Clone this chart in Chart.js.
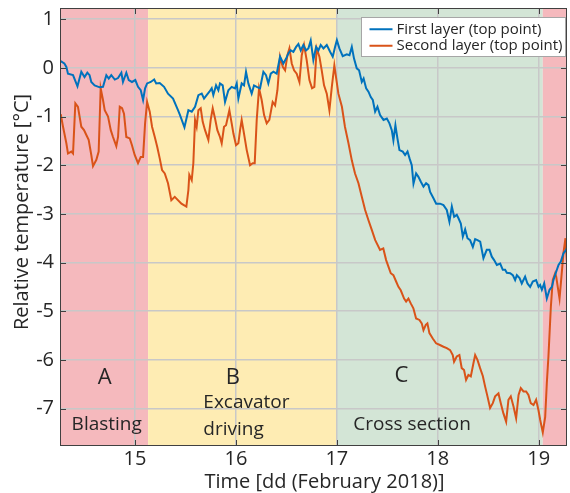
<!DOCTYPE html>
<html><head><meta charset="utf-8">
<script src="https://cdn.jsdelivr.net/npm/chart.js@4/dist/chart.umd.min.js"></script>
<style>html,body{margin:0;padding:0;background:#fff;overflow:hidden}#wrap{width:570px;height:493px}</style>
</head><body><div id="wrap"><canvas id="c" width="570" height="493"></canvas></div>
<script>
// ---------------- data ----------------
const seriesLabels = ['First layer (top point)', 'Second layer (top point)'];
const xTicks = [15, 16, 17, 18, 19];
const yTicks = [-7, -6, -5, -4, -3, -2, -1, 0, 1];
const xRange = [14.257, 19.28];
const yRange = [-7.77, 1.23];
const xTitle = 'Time [dd (February 2018)]';
const yTitle = 'Relative temperature [°C]';

// phases: start / end (days)
const phaseStart = [14.257, 15.13, 17.0, 19.04];
const phaseEnd   = [15.13, 17.0, 19.04, 19.28];
const phaseLetters = ['A', 'B', 'C'];
const phaseNames = [['Blasting'], ['Excavator', 'driving'], ['Cross section']];

const firstLayerTime = [
14.264,14.30,14.32,14.336,14.386,14.43,14.468,14.50,14.528,14.55,
14.567,14.60,14.65,14.683,14.716,14.74,14.765,14.80,14.832,14.865,
14.881,14.914,14.938,14.97,15.003,15.03,15.057,15.08,15.10,15.12,
15.156,15.19,15.21,15.245,15.288,15.327,15.377,15.426,15.446,15.49,
15.529,15.562,15.595,15.628,15.661,15.684,15.71,15.737,15.76,15.776,
15.803,15.826,15.842,15.869,15.892,15.925,15.958,15.991,16.008,16.024,
16.057,16.08,16.10,16.123,16.156,16.179,16.206,16.239,16.272,16.298,
16.321,16.345,16.371,16.404,16.437,16.47,16.497,16.52,16.543,16.569,
16.596,16.619,16.642,16.668,16.695,16.718,16.741,16.767,16.794,16.817,
16.84,16.867,16.90,16.933,16.959,16.982,17.0,17.025,17.058,17.098,
17.125,17.148,17.17,17.197,17.22,17.247,17.265,17.29,17.313,17.336,
17.356,17.379,17.402,17.428,17.462,17.495,17.521,17.544,17.56,17.58,
17.6,17.62,17.653,17.676,17.7,17.72,17.742,17.759,17.785,17.808,
17.832,17.858,17.884,17.908,17.924,17.957,17.984,18.023,18.056,18.089,
18.115,18.139,18.162,18.188,18.205,18.228,18.248,18.271,18.294,18.32,
18.347,18.37,18.393,18.42,18.452,18.485,18.512,18.535,18.558,18.585,
18.618,18.644,18.667,18.684,18.717,18.743,18.766,18.783,18.81,18.832,
18.865,18.888,18.915,18.941,18.974,18.998,19.014,19.031,19.054,19.08,
19.107,19.13,19.146,19.173,19.196,19.219,19.245,19.272,19.295];
const firstLayerTemp = [
0.14,0.09,0.02,-0.12,-0.15,-0.38,-0.08,-0.19,-0.10,-0.15,
-0.29,-0.36,-0.40,-0.39,-0.15,-0.22,-0.15,-0.24,-0.21,-0.10,
-0.29,-0.10,-0.25,-0.29,-0.25,-0.39,-0.46,-0.66,-0.42,-0.32,
-0.29,-0.24,-0.32,-0.31,-0.39,-0.53,-0.63,-0.87,-0.97,-1.22,
-0.87,-0.90,-0.80,-0.56,-0.53,-0.63,-0.56,-0.49,-0.42,-0.56,
-0.36,-0.46,-0.32,-0.36,-0.70,-0.46,-0.39,-0.42,-0.32,-0.63,
-0.32,-0.36,-0.08,-0.32,-0.53,-0.36,-0.39,-0.42,-0.08,-0.15,
-0.32,-0.12,-0.08,-0.12,0.23,0.09,0.19,0.30,0.36,0.33,
0.43,0.49,0.36,0.47,0.36,0.40,0.56,0.16,0.43,0.36,
0.47,0.40,0.47,0.33,0.23,0.43,0.57,0.40,0.24,0.28,
0.26,0.43,0.19,-0.01,-0.05,-0.29,-0.22,-0.42,-0.49,-0.60,
-0.66,-0.90,-0.80,-0.97,-1.07,-1.04,-1.14,-1.28,-1.49,-1.18,
-1.45,-1.69,-1.72,-1.79,-1.72,-1.86,-2.00,-2.38,-2.17,-2.24,
-2.34,-2.44,-2.37,-2.41,-2.55,-2.68,-2.79,-2.79,-2.82,-2.92,
-3.16,-2.85,-3.06,-3.02,-3.09,-3.20,-3.47,-3.32,-3.50,-3.54,
-3.68,-3.52,-3.54,-3.57,-3.91,-3.74,-3.74,-3.88,-3.95,-4.05,
-4.02,-4.15,-4.15,-4.21,-4.22,-4.26,-4.36,-4.26,-4.32,-4.43,
-4.29,-4.43,-4.50,-4.39,-4.36,-4.50,-4.46,-4.56,-4.43,-4.74,
-4.56,-4.50,-4.36,-4.19,-4.05,-3.98,-3.81,-3.74,-3.61];

const secondLayerTime = [
14.264,14.287,14.32,14.336,14.369,14.386,14.409,14.435,14.468,14.495,
14.518,14.541,14.567,14.584,14.617,14.64,14.66,14.683,14.70,14.733,
14.76,14.782,14.815,14.832,14.849,14.872,14.891,14.914,14.948,14.97,
14.997,15.03,15.057,15.08,15.10,15.12,15.146,15.169,15.196,15.22,
15.245,15.268,15.295,15.327,15.36,15.394,15.46,15.509,15.529,15.538,
15.562,15.578,15.595,15.611,15.628,15.651,15.671,15.694,15.727,15.75,
15.77,15.793,15.816,15.842,15.859,15.882,15.902,15.935,15.958,15.975,
16.001,16.024,16.041,16.057,16.08,16.107,16.14,16.166,16.186,16.206,
16.229,16.255,16.279,16.305,16.331,16.364,16.388,16.411,16.437,16.464,
16.487,16.51,16.53,16.553,16.576,16.602,16.629,16.652,16.675,16.701,
16.728,16.754,16.777,16.80,16.827,16.85,16.873,16.90,16.926,16.95,
16.975,17.015,17.05,17.08,17.115,17.148,17.18,17.214,17.247,17.28,
17.313,17.346,17.38,17.428,17.46,17.488,17.51,17.534,17.56,17.587,
17.61,17.633,17.666,17.686,17.709,17.732,17.758,17.785,17.818,17.841,
17.858,17.881,17.897,17.917,17.95,17.983,18.016,18.056,18.089,18.122,
18.148,18.161,18.188,18.214,18.237,18.26,18.28,18.303,18.327,18.353,
18.37,18.393,18.419,18.446,18.469,18.492,18.518,18.545,18.568,18.601,
18.624,18.65,18.677,18.7,18.723,18.75,18.776,18.8,18.822,18.849,
18.875,18.898,18.921,18.948,18.974,18.997,19.014,19.04,19.064,19.08,
19.096,19.12,19.139,19.163,19.173,19.206,19.225,19.245,19.265,19.278,
19.295];
const secondLayerTemp = [
-0.95,-1.21,-1.55,-1.76,-1.72,-1.76,-0.73,-0.80,-1.21,-1.28,
-1.38,-1.48,-1.79,-2.02,-1.89,-1.72,-0.42,-0.66,-0.87,-1.00,
-1.28,-1.42,-1.61,-1.42,-0.80,-0.83,-0.94,-1.42,-1.45,-1.59,
-1.79,-1.96,-1.83,-1.83,-1.14,-0.70,-0.90,-1.21,-1.42,-1.62,
-1.86,-2.10,-2.17,-2.37,-2.72,-2.65,-2.79,-2.85,-2.51,-2.20,
-2.31,-1.96,-1.07,-1.21,-0.87,-0.83,-1.11,-1.28,-1.48,-1.07,
-0.83,-1.04,-1.28,-1.42,-1.55,-1.21,-1.18,-0.87,-1.14,-1.35,
-1.59,-1.55,-1.28,-1.07,-1.35,-1.69,-2.00,-1.96,-1.96,-1.07,
-0.42,-0.66,-0.97,-1.14,-1.07,-0.70,-0.77,-0.46,0.23,0.02,
-0.05,0.26,0.40,0.09,-0.05,-0.12,-0.29,0.26,0.47,0.16,
-0.25,-0.42,-0.39,0.40,0.23,-0.05,-0.36,-0.53,-0.87,-0.39,
0.05,-0.53,-0.80,-1.21,-1.55,-1.90,-2.17,-2.37,-2.65,-2.92,
-3.13,-3.33,-3.54,-3.74,-3.71,-3.95,-4.08,-4.22,-4.26,-4.39,
-4.50,-4.57,-4.74,-4.80,-4.74,-4.84,-4.94,-5.15,-5.18,-5.25,
-5.39,-5.28,-5.25,-5.45,-5.56,-5.66,-5.69,-5.73,-5.76,-5.80,
-5.90,-6.04,-5.93,-5.90,-6.17,-6.21,-6.41,-6.31,-6.34,-6.07,
-5.90,-6.00,-6.17,-6.33,-6.55,-6.75,-6.99,-6.89,-6.75,-6.69,
-6.89,-7.10,-7.27,-6.82,-6.75,-6.96,-7.20,-6.72,-6.58,-6.65,
-6.65,-6.72,-6.89,-6.93,-6.82,-7.03,-7.23,-7.49,-7.17,-6.48,
-5.93,-4.91,-4.36,-4.22,-4.29,-4.74,-4.29,-3.80,-3.50,-3.95,
-4.20];

// ---------------- styles ----------------
const FONT = "'Open Sans', 'DejaVu Sans', sans-serif";
const TXT = '#262626';
const seriesColors = ['#0072BD', '#D95319'];
const phaseFills = ['#f5b9bd', '#feecb3', '#d3e5d6', '#f5b9bd'];
// annotation anchors (data units)
const letterAnchor = [[14.70, -6.49], [15.97, -6.49], [17.64, -6.45]];
const nameAnchor = [
  [[14.72, -7.45, 'center']],
  [[15.677, -6.985, 'left'], [15.677, -7.54, 'left']],
  [[17.745, -7.44, 'center']]
];

const pts = (xs, ys) => xs.map((t, i) => ({x: t, y: ys[i]}));

const decor = {
  id: 'decor',
  beforeDraw(chart) {
    const {ctx, chartArea: a, scales: {x}} = chart;
    ctx.save();
    phaseStart.forEach((s, i) => {
      const x0 = x.getPixelForValue(s), x1 = x.getPixelForValue(phaseEnd[i]);
      ctx.fillStyle = phaseFills[i];
      ctx.fillRect(x0, a.top, x1 - x0, a.bottom - a.top);
    });
    ctx.restore();
  },
  afterDraw(chart) {
    const {ctx, chartArea: a, scales: {x, y}} = chart;
    ctx.save();
    // phase texts
    ctx.fillStyle = TXT;
    ctx.textBaseline = 'alphabetic';
    ctx.font = '22px ' + FONT;
    ctx.textAlign = 'center';
    phaseLetters.forEach((L, i) => {
      ctx.fillText(L, x.getPixelForValue(letterAnchor[i][0]), y.getPixelForValue(letterAnchor[i][1]));
    });
    ctx.font = '19px ' + FONT;
    phaseNames.forEach((lines, i) => {
      lines.forEach((t, j) => {
        const an = nameAnchor[i][j];
        ctx.textAlign = an[2];
        ctx.fillText(t, x.getPixelForValue(an[0]), y.getPixelForValue(an[1]));
      });
    });
    // box + inward ticks
    ctx.strokeStyle = '#404040';
    ctx.lineWidth = 1;
    ctx.strokeRect(Math.round(a.left) + 0.5, Math.round(a.top) + 0.5,
                   Math.round(a.right - a.left) - 1, Math.round(a.bottom - a.top) - 1);
    ctx.beginPath();
    const TL = 6;
    xTicks.forEach(v => {
      const px = Math.round(x.getPixelForValue(v)) + 0.5;
      ctx.moveTo(px, a.bottom); ctx.lineTo(px, a.bottom - TL);
      ctx.moveTo(px, a.top); ctx.lineTo(px, a.top + TL);
    });
    yTicks.forEach(v => {
      const py = Math.round(y.getPixelForValue(v)) + 0.5;
      ctx.moveTo(a.left, py); ctx.lineTo(a.left + TL, py);
      ctx.moveTo(a.right, py); ctx.lineTo(a.right - TL, py);
    });
    ctx.stroke();
    // axis titles
    ctx.fillStyle = TXT;
    ctx.font = '20px ' + FONT;
    ctx.textAlign = 'center';
    ctx.textBaseline = 'alphabetic';
    ctx.fillText(xTitle, (a.left + a.right) / 2 + 11, 488);
    ctx.save();
    ctx.translate(28, (a.top + a.bottom) / 2 - 15);
    ctx.rotate(-Math.PI / 2);
    ctx.fillText(yTitle, 0, 0);
    ctx.restore();
    // legend
    ctx.font = '15px ' + FONT;
    const ds = chart.data.datasets;
    const tw = Math.max(...ds.map(d => ctx.measureText(d.label).width));
    const padL = 8, lineLen = 23, gap = 4, padR = 3, rowH = 16.5, padT = 2.5;
    const w = padL + lineLen + gap + tw + padR;
    const h = padT * 2 + rowH * ds.length + 1;
    const bx = Math.round(a.right - 1.5 - w) + 0.5, by = Math.round(a.top + 8.5) + 0.5;
    ctx.fillStyle = '#ffffff';
    ctx.fillRect(bx, by, w, h);
    ctx.strokeStyle = '#a6a6a6';
    ctx.lineWidth = 1;
    ctx.strokeRect(bx, by, w, h);
    ds.forEach((d, i) => {
      const cy = by + padT + rowH * i + rowH / 2 + 1;
      ctx.strokeStyle = d.borderColor;
      ctx.lineWidth = 2;
      ctx.beginPath();
      ctx.moveTo(bx + padL, cy); ctx.lineTo(bx + padL + lineLen, cy);
      ctx.stroke();
      ctx.fillStyle = TXT;
      ctx.textAlign = 'left';
      ctx.textBaseline = 'middle';
      ctx.fillText(d.label, bx + padL + lineLen + gap, cy);
    });
    ctx.restore();
  }
};

new Chart(document.getElementById('c'), {
  type: 'line',
  data: {
    datasets: [
      {label: seriesLabels[0], data: pts(firstLayerTime, firstLayerTemp), borderColor: seriesColors[0]},
      {label: seriesLabels[1], data: pts(secondLayerTime, secondLayerTemp), borderColor: seriesColors[1]}
    ]
  },
  options: {
    responsive: false,
    animation: false,
    devicePixelRatio: 1,
    layout: {padding: {top: 8, right: 3, left: 0, bottom: 0}},
    elements: {line: {borderWidth: 2, tension: 0}, point: {radius: 0}},
    plugins: {legend: {display: false}, tooltip: {enabled: false}},
    scales: {
      x: {
        type: 'linear', min: xRange[0], max: xRange[1],
        afterBuildTicks: s => { s.ticks = xTicks.map(v => ({value: v})); },
        afterFit: s => { s.height = 47; s.paddingLeft = 0; s.paddingRight = 0; },
        grid: {color: '#c8c8c8', lineWidth: 1.5, drawTicks: false},
        border: {display: false},
        ticks: {font: {family: FONT, size: 20}, color: TXT, padding: 1, maxRotation: 0, autoSkip: false,
                callback: v => String(v)}
      },
      y: {
        type: 'linear', min: yRange[0], max: yRange[1],
        afterBuildTicks: s => { s.ticks = yTicks.map(v => ({value: v})); },
        afterFit: s => { s.width = 60; s.paddingTop = 0; s.paddingBottom = 0; },
        grid: {color: '#c8c8c8', lineWidth: 1.5, drawTicks: false},
        border: {display: false},
        ticks: {font: {family: FONT, size: 20}, color: TXT, padding: 6, autoSkip: false,
                callback: v => String(v)}
      }
    }
  },
  plugins: [decor]
});
</script>
</body></html>
